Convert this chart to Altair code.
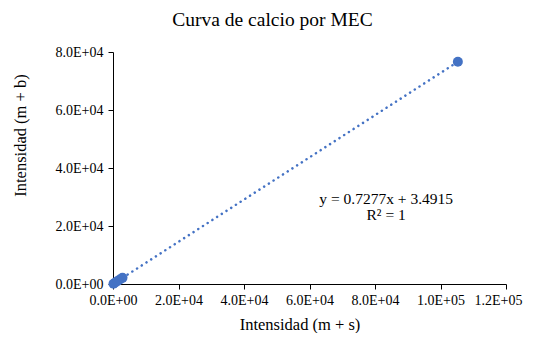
import altair as alt
import pandas as pd

# Calibration points
x_vals = [150, 700, 1400, 2100, 2900, 105300]
y_vals = [113, 513, 1022, 1532, 2114, 76630]

x_ticks = [0, 20000, 40000, 60000, 80000, 100000, 120000]
y_ticks = [0, 20000, 40000, 60000, 80000]

eq_lines = ["y = 0.7277x + 3.4915", "R² = 1"]
eq_x = [83400, 83400]
eq_y = [29300, 23800]

df = pd.DataFrame({"x": x_vals, "y": y_vals})
eq_df = pd.DataFrame({"t": eq_lines, "x": eq_x, "y": eq_y})

FONT = "Liberation Serif"
BLUE = "#4472C4"

fmt = ("datum.value == 0 ? '0.0E+00' : format(datum.value / pow(10, floor(log(datum.value)/LN10 + 1e-9)), '.1f')"
       " + 'E+' + (floor(log(datum.value)/LN10 + 1e-9) < 10 ? '0' : '') + floor(log(datum.value)/LN10 + 1e-9)")

xs = alt.Scale(domain=[0, 120000], nice=False, zero=True)
ys = alt.Scale(domain=[0, 80000], nice=False, zero=True)

common = dict(labelExpr=fmt, grid=False, tickSize=5, labelOverlap=False, labelFlush=False,
              labelFont=FONT, labelFontSize=14, labelColor="black",
              titleFont=FONT, titleFontSize=16.5, titleFontWeight="normal", titleColor="black",
              domainColor="black", tickColor="black")

xenc = alt.X("x:Q", scale=xs, title="Intensidad (m + s)",
             axis=alt.Axis(values=x_ticks, labelPadding=4,
                           labelOffset={"condition": {"test": "datum.value == 120000", "value": -8},
                                        "value": 0},
                           titleX=186.5, titleY=45, titleBaseline="alphabetic",
                           titleAlign="center", **common))
yenc = alt.Y("y:Q", scale=ys, title="Intensidad (m + b)",
             axis=alt.Axis(values=y_ticks, labelPadding=5,
                           titleX=-93, titleY=83, titleBaseline="middle",
                           titleAlign="center", titleAngle=270, **common))

trend = alt.Chart(df).transform_regression("x", "y", method="linear").mark_line(
    color=BLUE, strokeWidth=2.5, strokeDash=[0.1, 5.5], strokeCap="round"
).encode(x=xenc, y=yenc)

pts = alt.Chart(df).mark_circle(size=100, color=BLUE, opacity=1).encode(x=xenc, y=yenc)

txt = alt.Chart(eq_df).mark_text(font=FONT, fontSize=15.5, color="black").encode(
    x=alt.X("x:Q", scale=xs), y=alt.Y("y:Q", scale=ys), text="t:N")

chart = alt.layer(trend, pts, txt).properties(
    width=393, height=232,
    autosize=alt.AutoSizeParams(type="none"),
    padding={"left": 105, "top": 44, "right": 20, "bottom": 49},
    title=alt.TitleParams("Curva de calcio por MEC", font=FONT, fontSize=19.5,
                          fontWeight="normal", anchor="middle", offset=15,
                          dx=-37, color="black"),
).configure_view(stroke=None)

chart.save("out.html", embed_options={"renderer": "svg", "actions": False})
